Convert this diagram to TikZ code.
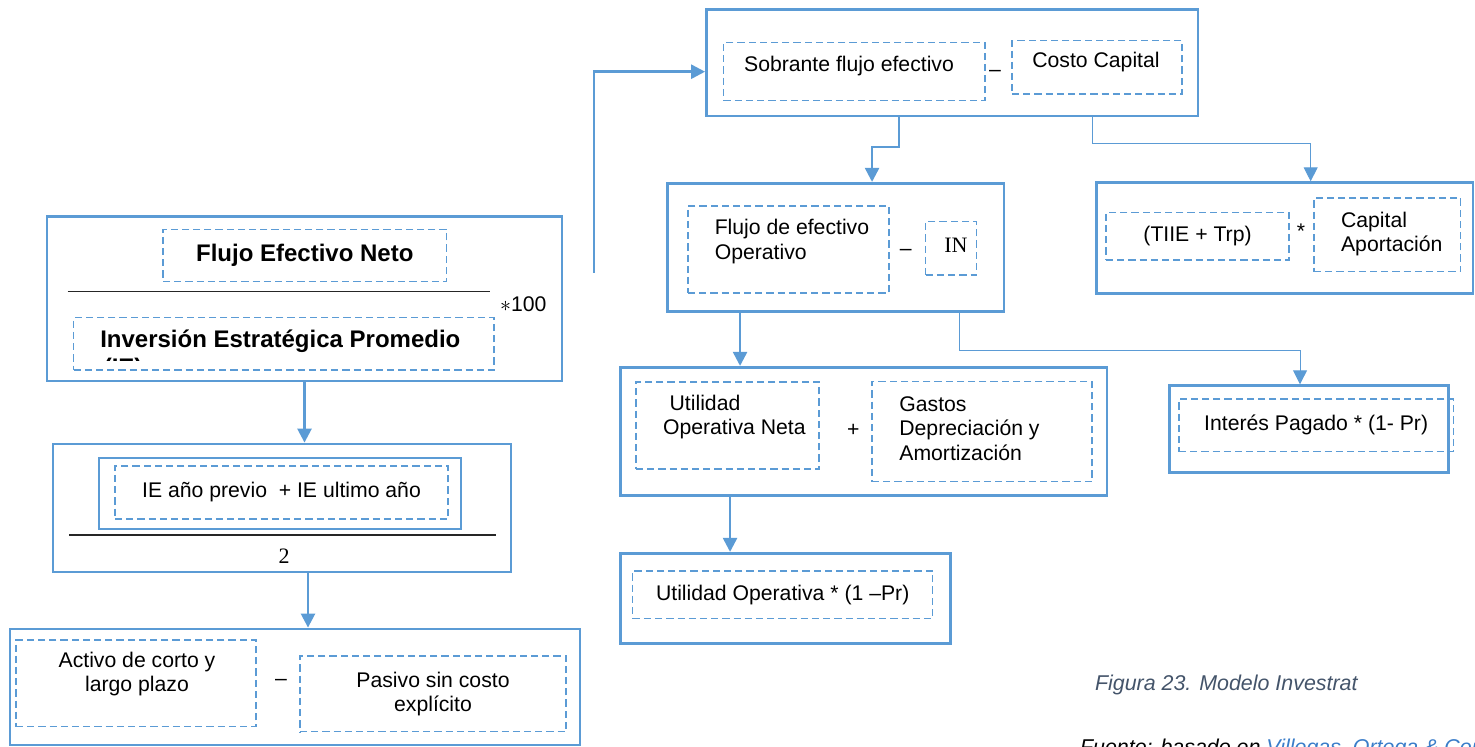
\documentclass[tikz,border=0pt]{standalone}
\usepackage{fontspec}
\setmainfont{Liberation Sans}
\newfontfamily\serifnum{Liberation Serif}
\usetikzlibrary{arrows.meta}
\definecolor{boxblue}{HTML}{5B9BD5}
\definecolor{capgray}{HTML}{44546A}
\definecolor{linkblue}{HTML}{3A7DC9}
\tikzstyle{block}=[draw=boxblue,line width=1.4pt,rectangle,inner sep=0pt]
\tikzstyle{dbox}=[draw=boxblue,line width=0.75pt,dash pattern=on 3.6pt off 2pt,rectangle,inner sep=0pt,align=center]
\tikzstyle{every node}=[font=\fontsize{10.6}{12.2}\selectfont]
\tikzstyle{arr}=[draw=boxblue,line width=1.25pt,-{Triangle[length=7pt,width=7pt]}]
\tikzstyle{tarr}=[draw=boxblue,line width=0.5pt,-{Triangle[length=7pt,width=7pt]}]
\tikzstyle{bar}=[draw=black!85,line width=0.6pt]
\newcommand{\bigbold}{\bfseries\fontsize{12}{12.3}\selectfont}
\newcommand{\capfont}{\itshape\fontsize{10.7}{12.8}\selectfont}

\begin{document}
\begin{tikzpicture}[x=0.5pt,y=-0.5pt]
  \useasboundingbox (0,0) rectangle (1475,747);

  % rentabilidad
  \node[block, minimum width=257.5pt, minimum height=82.15pt] (b1) at (304.5,298.85) {};
  \node[dbox, minimum width=141.8pt, minimum height=26.2pt, font=\bigbold] (neto) at (304.8,255.5) {Flujo Efectivo Neto};
  \draw[bar] (67.6,291.7) -- (490,291.7);
  \node[anchor=base] (cien) at (523.3,311.6) {$\ast$100};
  \node[dbox, minimum width=210.15pt, minimum height=26.15pt] (prom) at (283.75,343.85) {};
  \node[anchor=west, font=\bigbold] (promtxt) at (93.2,341) {Inversión Estratégica Promedio};
  \begin{scope}
    \clip (73.6,318) rectangle (493.9,361);
    \node[anchor=base west, font=\bigbold] (ie) at (96.7,375.5) {(IE)};
  \end{scope}

  % inversion estrategica
  \node[block, minimum width=229pt, minimum height=64pt] (b2) at (282,508) {};
  \node[block, minimum width=181pt, minimum height=35.5pt] (suma) at (280,493.5) {};
  \node[dbox, minimum width=166.5pt, minimum height=26.5pt] (ies) at (281.5,492.5) {IE año previo~ + IE ultimo año};
  \draw[bar] (69,535) -- (496,535);
  \node[font=\serifnum\fontsize{11}{13}\selectfont] (dos) at (284,556) {2};

  \node[block, minimum width=285pt, minimum height=58pt] (b3) at (295,687) {};
  \node[dbox, minimum width=120pt, minimum height=43.35pt] (activo) at (136,683.35) {};
  \node[align=center] (activotxt) at (137,674) {Activo de corto y\\largo plazo};
  \node[anchor=base] (menos1) at (281,685.8) {–};
  \node[dbox, minimum width=133pt, minimum height=37.85pt] (pasivo) at (433,693.85) {Pasivo sin costo\\explícito};

  % valor economico
  \node[block, minimum width=245.75pt, minimum height=53.35pt] (b4) at (952.25,62.65) {};
  \node[dbox, minimum width=130.75pt, minimum height=29pt] (sobrante) at (854.25,71.7) {};
  \node (sobrantetxt) at (849,66) {Sobrante flujo efectivo};
  \node[anchor=base] (menos2) at (995,77) {–};
  \node[dbox, minimum width=85pt, minimum height=26.65pt] (costo) at (1097,67.35) {};
  \node (costotxt) at (1096,62.5) {Costo Capital};

  \node[block, minimum width=168.15pt, minimum height=64.2pt] (b5) at (835.85,247.5) {};
  \node[dbox, minimum width=100.5pt, minimum height=43.5pt] (flujo) at (788.5,249.5) {};
  \node[anchor=west, align=left] (flujotxt) at (707.7,241.7) {Flujo de efectivo\\Operativo};
  \node[anchor=base] (menos3) at (905.7,255.8) {–};
  \node[dbox, minimum width=25.5pt, minimum height=26.65pt] (in) at (951.2,248.35) {};
  \node[font=\serifnum\fontsize{11}{13}\selectfont] (intxt) at (956,245) {IN};

  \node[block, minimum width=188.15pt, minimum height=55.3pt] (b6) at (1284.85,238) {};
  \node[dbox, minimum width=91.5pt, minimum height=23.65pt] (tasa) at (1197.5,236.35) {(TIIE + Trp)};
  \node[anchor=base] (por1) at (1301,238.8) {*};
  \node[dbox, minimum width=73.35pt, minimum height=36.85pt] (capital) at (1387.35,234.85) {};
  \node[anchor=west, align=left] (capitaltxt) at (1334,233.8) {Capital\\Aportación};

  \node[block, minimum width=243.15pt, minimum height=64.2pt] (b7) at (863.85,431.5) {};
  \node[dbox, minimum width=91.5pt, minimum height=43.5pt] (uon) at (727.5,425.5) {};
  \node[anchor=west, align=left] (uontxt) at (656,417) {\hspace*{3.3pt}Utilidad\\Operativa Neta};
  \node[anchor=base] (mas) at (853.3,436.4) {+};
  \node[dbox, minimum width=110pt, minimum height=50pt] (gastos) at (982,431.7) {};
  \node[anchor=west, align=left] (gastostxt) at (892.3,428.7) {Gastos\\Depreciación y\\Amortización};

  \node[block, minimum width=165pt, minimum height=45pt] (b8) at (785.7,598.3) {};
  \node[dbox, minimum width=150pt, minimum height=23.65pt] (uop) at (782.7,594.65) {Utilidad Operativa * (1 –Pr)};

  \node[block, minimum width=139.5pt, minimum height=43.3pt] (b9) at (1308.8,429) {};
  \node[dbox, minimum width=137.15pt, minimum height=26.35pt] (interes) at (1316.15,425.35) {Interés Pagado * (1- Pr)};

  \node[anchor=west, font=\capfont, text=capgray] (figura) at (1088,685) {Figura 23. Modelo Investrat};
  \node[anchor=base west, font=\capfont] (fuente) at (1073,754) {Fuente: basado en \textcolor{linkblue}{Villegas, Ortega \& Corr}};

  % flechas
  \coordinate (inicio) at (594,273);
  \draw[arr] (b1.south) -- (b1.south |- b2.north);
  \draw[arr] ([xshift=13pt]b2.south) -- ([xshift=13pt]b2.south |- b3.north);
  \draw[arr] (inicio) |- (b4.west |- sobrante.center);
  \draw[arr] ([xshift=-26.6pt]b4.south) -- ++(0,29.7) -| ([xshift=18.1pt]b5.north);
  \draw[tarr] ([xshift=69.9pt]b4.south) -- ++(0,25.7) -| ([xshift=12.9pt]b6.north);
  \draw[arr] ([xshift=-47.9pt]b5.south) -- ([xshift=-47.9pt]b5.south |- b7.north);
  \draw[tarr] ([xshift=61.7pt]b5.south) -- ++(0,37.3) -| ([xshift=-4.4pt]b9.north);
  \draw[arr] ([xshift=-66.9pt]b7.south) -- ([xshift=-66.9pt]b7.south |- b8.north);
\end{tikzpicture}
\end{document}
